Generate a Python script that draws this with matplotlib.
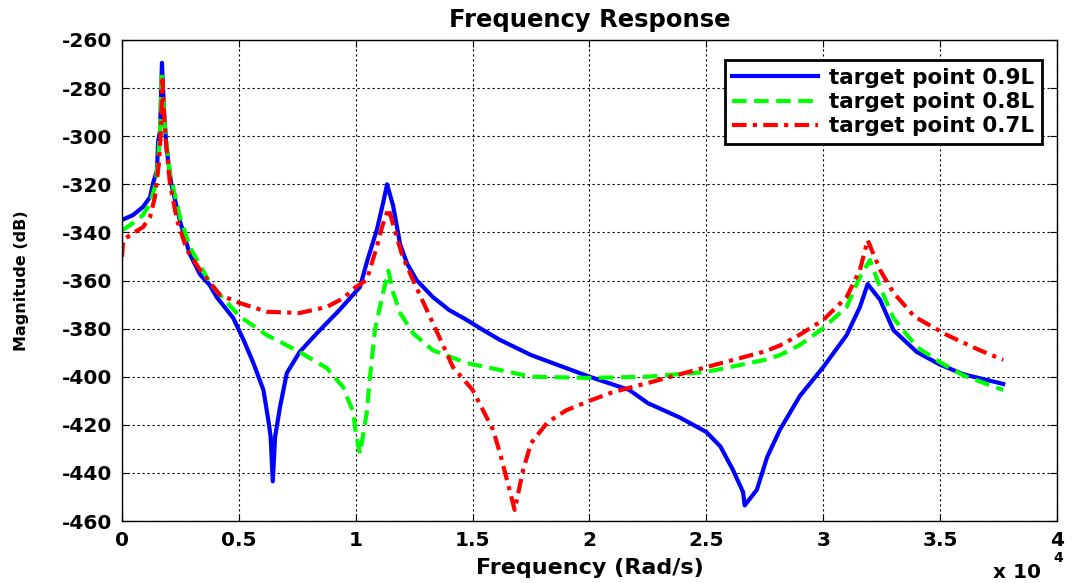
import matplotlib
matplotlib.use('Agg')
import matplotlib.pyplot as plt
from matplotlib.ticker import MultipleLocator, FuncFormatter

# frequency response, target points 0.9L / 0.8L / 0.7L  (x in Rad/s, y in dB)
blue_w = [0, 470, 900, 1200, 1330, 1500, 1540, 1630, 1710, 1800, 1900, 2100, 2500, 2900,
          3340, 3760, 4050, 4760, 5200, 5620, 6050, 6260, 6360, 6450, 6550, 6760, 7050,
          7600, 8340, 9300, 10180, 10500, 10900, 11170, 11340, 11600, 11900, 12200, 12600,
          13300, 14000, 14750, 15450, 16170, 17500, 20000, 21700, 22500, 23870, 25000,
          25600, 26140, 26570, 26640, 27160, 27600, 28150, 29000, 30000, 31000, 31570,
          31900, 32430, 33000, 34000, 35000, 36000, 37700]
blue_db = [-334.8, -332.8, -329.4, -325.3, -319.5, -314, -302.8, -297.4, -269.5, -290,
           -304.5, -319.5, -336, -349, -357.5, -362, -366.9, -375.6, -384.7, -394.3, -405.5,
           -418, -425, -443.5, -425, -412.6, -398.5, -389.7, -381.9, -372.3, -362.7, -351.5,
           -339, -327.8, -320, -329, -345, -353, -359.8, -366.9, -372.3, -376.4, -380.6,
           -384.7, -391, -400, -405.5, -411, -417, -423, -429, -438.8, -448, -453.5, -447,
           -433.4, -422, -408, -396, -382.7, -371, -361.5, -368, -380.6, -389.7, -395, -399,
           -403]

green_w = [0, 470, 900, 1200, 1410, 1540, 1630, 1700, 1840, 2050, 2480, 2900, 3760, 4190,
           5050, 6200, 7600, 8760, 9460, 9900, 10000, 10180, 10470, 10600, 10820, 11170,
           11400, 11600, 11900, 12450, 13300, 14750, 16170, 17500, 20000, 22500, 25000,
           27500, 28150, 29000, 30000, 31000, 31570, 32000, 32430, 33000, 34000, 35000,
           36000, 37700]
green_db = [-339.2, -336.1, -332.8, -327.8, -321.1, -311.1, -297.4, -273, -297, -315.3,
            -333.6, -346, -361, -366, -375, -382.7, -389.7, -396.4, -404.3, -415, -423.4,
            -432, -415, -401, -380.6, -365, -356, -365, -373.5, -381.9, -389, -394.3,
            -397.2, -400, -400.5, -400, -398, -393, -391, -386.8, -379.8, -371, -358.5,
            -351.5, -362.7, -375.6, -387.6, -394, -399.5, -405.5]

red_w = [0, 50, 470, 900, 1200, 1410, 1580, 1670, 1730, 1800, 1900, 2050, 2350, 2780,
         3340, 4190, 5050, 6200, 7600, 8760, 9460, 10000, 10470, 10900, 11150, 11400,
         11700, 12000, 12450, 13300, 14160, 15000, 15870, 16170, 16470, 16800, 17160,
         17500, 18200, 19000, 20000, 21000, 22500, 25000, 27500, 28150, 29000, 30000,
         31000, 31570, 31900, 32430, 33000, 33900, 35300, 36700, 37700]
red_db = [-350.2, -343.2, -340.3, -337.8, -333.6, -325.3, -311.1, -297.4, -276.6, -292,
          -304.5, -319.5, -334.8, -347.3, -355.6, -366, -369.4, -373, -373.5, -371, -367.4,
          -362.7, -359.8, -346, -337, -330, -340, -350, -359.8, -377.7, -396, -405.5, -422,
          -431.7, -443, -455.4, -438.8, -427.6, -419, -414, -410, -406.4, -402.6, -396,
          -389.5, -387, -382.5, -376.4, -366.9, -355.6, -343.2, -355.6, -365, -375, -382.7,
          -389, -393]

legend_labels = ['target point 0.9L', 'target point 0.8L', 'target point 0.7L']

plt.rcParams['font.family'] = ['DejaVu Sans']
plt.rcParams['font.weight'] = 'bold'
plt.rcParams['axes.unicode_minus'] = False

fig = plt.figure(figsize=(10.72, 5.83), dpi=100)
ax = fig.add_axes([0.1138, 0.1063, 0.8722, 0.8251])

# curves
ax.plot(blue_w, blue_db, color=(0, 0, 1), lw=3, label=legend_labels[0])
ax.plot(green_w, green_db, color=(0, 1, 0), lw=3, dashes=(3.5, 1.8), label=legend_labels[1])
ax.plot(red_w, red_db, color=(1, 0, 0), lw=3, dashes=(3.5, 1.5, 1, 1.5), label=legend_labels[2])

ax.set_xlim(0, 40000)
ax.set_ylim(-460, -260)
ax.xaxis.set_major_locator(MultipleLocator(5000))
ax.yaxis.set_major_locator(MultipleLocator(20))
ax.xaxis.set_major_formatter(FuncFormatter(lambda v, p: '%g' % (v / 10000)))

# matlab look: grid, ticks inside on every side
ax.grid(True, color='black', linestyle=(0, (2, 2.5)), linewidth=0.8)
ax.tick_params(direction='in', top=True, right=True, length=5, labelsize=14.5, pad=7)
for lab in ax.get_xticklabels() + ax.get_yticklabels():
    lab.set_fontweight('bold')
for s in ax.spines.values():
    s.set_linewidth(1)
    s.set_color('black')

ax.set_title('Frequency Response', fontsize=17.5, fontweight='bold', pad=9)
ax.set_xlabel('Frequency (Rad/s)', fontsize=16, fontweight='bold', labelpad=6)
ax.set_ylabel('Magnitude (dB)', fontsize=11.5, fontweight='bold', labelpad=24)

fig.text(0.926, 0.008, 'x 10', fontsize=14.5, fontweight='bold')
fig.text(0.983, 0.036, '4', fontsize=10)

leg = ax.legend(loc='upper right', bbox_to_anchor=(0.984, 0.958), borderaxespad=0,
                fontsize=15.5, handlelength=4.0, handletextpad=0.5, fancybox=False,
                framealpha=1, edgecolor='black', borderpad=0.35, labelspacing=0.2)
leg.get_frame().set_linewidth(2)
for t in leg.get_texts():
    t.set_fontweight('bold')

fig.savefig('out.png', dpi=100)
